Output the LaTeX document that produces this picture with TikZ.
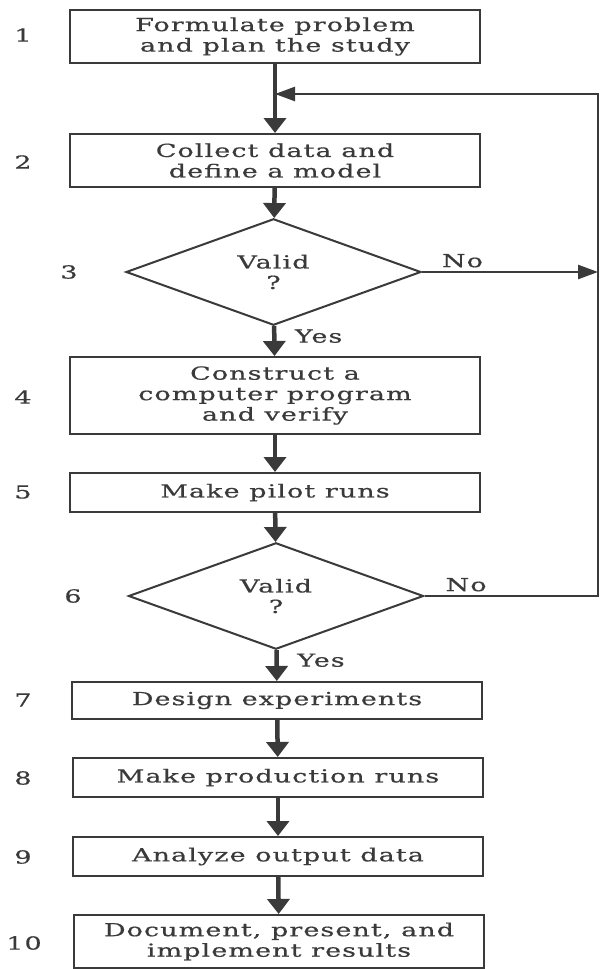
\documentclass[tikz,border=0pt]{standalone}
\usepackage{fontspec}
\setmainfont{DejaVu Serif}[FakeStretch=1.5,LetterSpace=6,FakeBold=0.5]
\usetikzlibrary{shapes.geometric,arrows.meta,positioning}
\definecolor{ink}{HTML}{3A3A3A}
\tikzset{
  stepbox/.style={draw=ink, line width=2pt, minimum width=410pt, inner sep=0pt, align=center},
  decision/.style={diamond, draw=ink, line width=2pt, minimum width=295pt, minimum height=88pt, inner sep=0pt, align=center},
  num/.style={inner sep=0pt},
  flow/.style={draw=ink, line width=4.5pt, -{Triangle[width=22pt,length=15pt]}},
  loopline/.style={draw=ink, line width=2.5pt, -{Triangle[width=14pt,length=20pt]}},
}
\begin{document}
\begin{tikzpicture}[x=1pt, y=-1pt, text=ink, font=\fontsize{18}{20.5}\selectfont]
    \useasboundingbox (0,0) rectangle (600,969);
    \fill[white] (0,0) rectangle (600,969);
    % steps of the study
    \node[stepbox, minimum height=53pt] (s1) at (275,36.5) {Formulate problem\\and plan the study};
    \node[stepbox, minimum height=53pt] (s2) at (275,160.5) {Collect data and\\define a model};
    \node[decision] (s3) at (273.5,272) {Valid\\?};
    \node[stepbox, minimum height=77pt] (s4) at (275,395.5) {Construct a\\computer program\\and verify};
    \node[stepbox, minimum height=39pt] (s5) at (275,492.5) {Make pilot runs};
    \node[decision] (s6) at (276,596) {Valid\\?};
    \node[stepbox, minimum height=37pt] (s7) at (277,700.5) {Design experiments};
    \node[stepbox, minimum height=39pt] (s8) at (278,777.5) {Make production runs};
    \node[stepbox, minimum height=39pt] (s9) at (278,856.5) {Analyze output data};
    \node[stepbox, minimum height=53pt] (s10) at (279,941.5) {Document, present, and\\implement results};
    % step numbers
    \foreach \i/\x/\y in {1/23/35, 2/23/162, 3/69/272, 4/23/397, 5/23/492, 6/73/596, 7/23/700, 8/23/778, 9/23/857, 10/24/943}
      \node[num] (n\i) at (\x,\y) {\i};
    % flow
    \foreach \a/\b in {s1/s2, s2/s3, s4/s5, s5/s6, s7/s8, s8/s9, s9/s10}
      \draw[flow] (\a) -- (\b);
    \draw[flow] (s3) -- node[right, pos=.34, xshift=15pt] {Yes} (s4);
    \draw[flow] (s6) -- node[right, pos=.33, xshift=15pt] {Yes} (s7);
    % loop back
    \coordinate (join) at (275,94);
    \coordinate (turn) at (598,94);
    \draw[loopline] (s3.east) -- node[above, pos=.23] {No} (s3.east -| turn);
    \draw[loopline] (s6.east) -| node[above, pos=.12] {No} (turn) -- (join);
\end{tikzpicture}
\end{document}
